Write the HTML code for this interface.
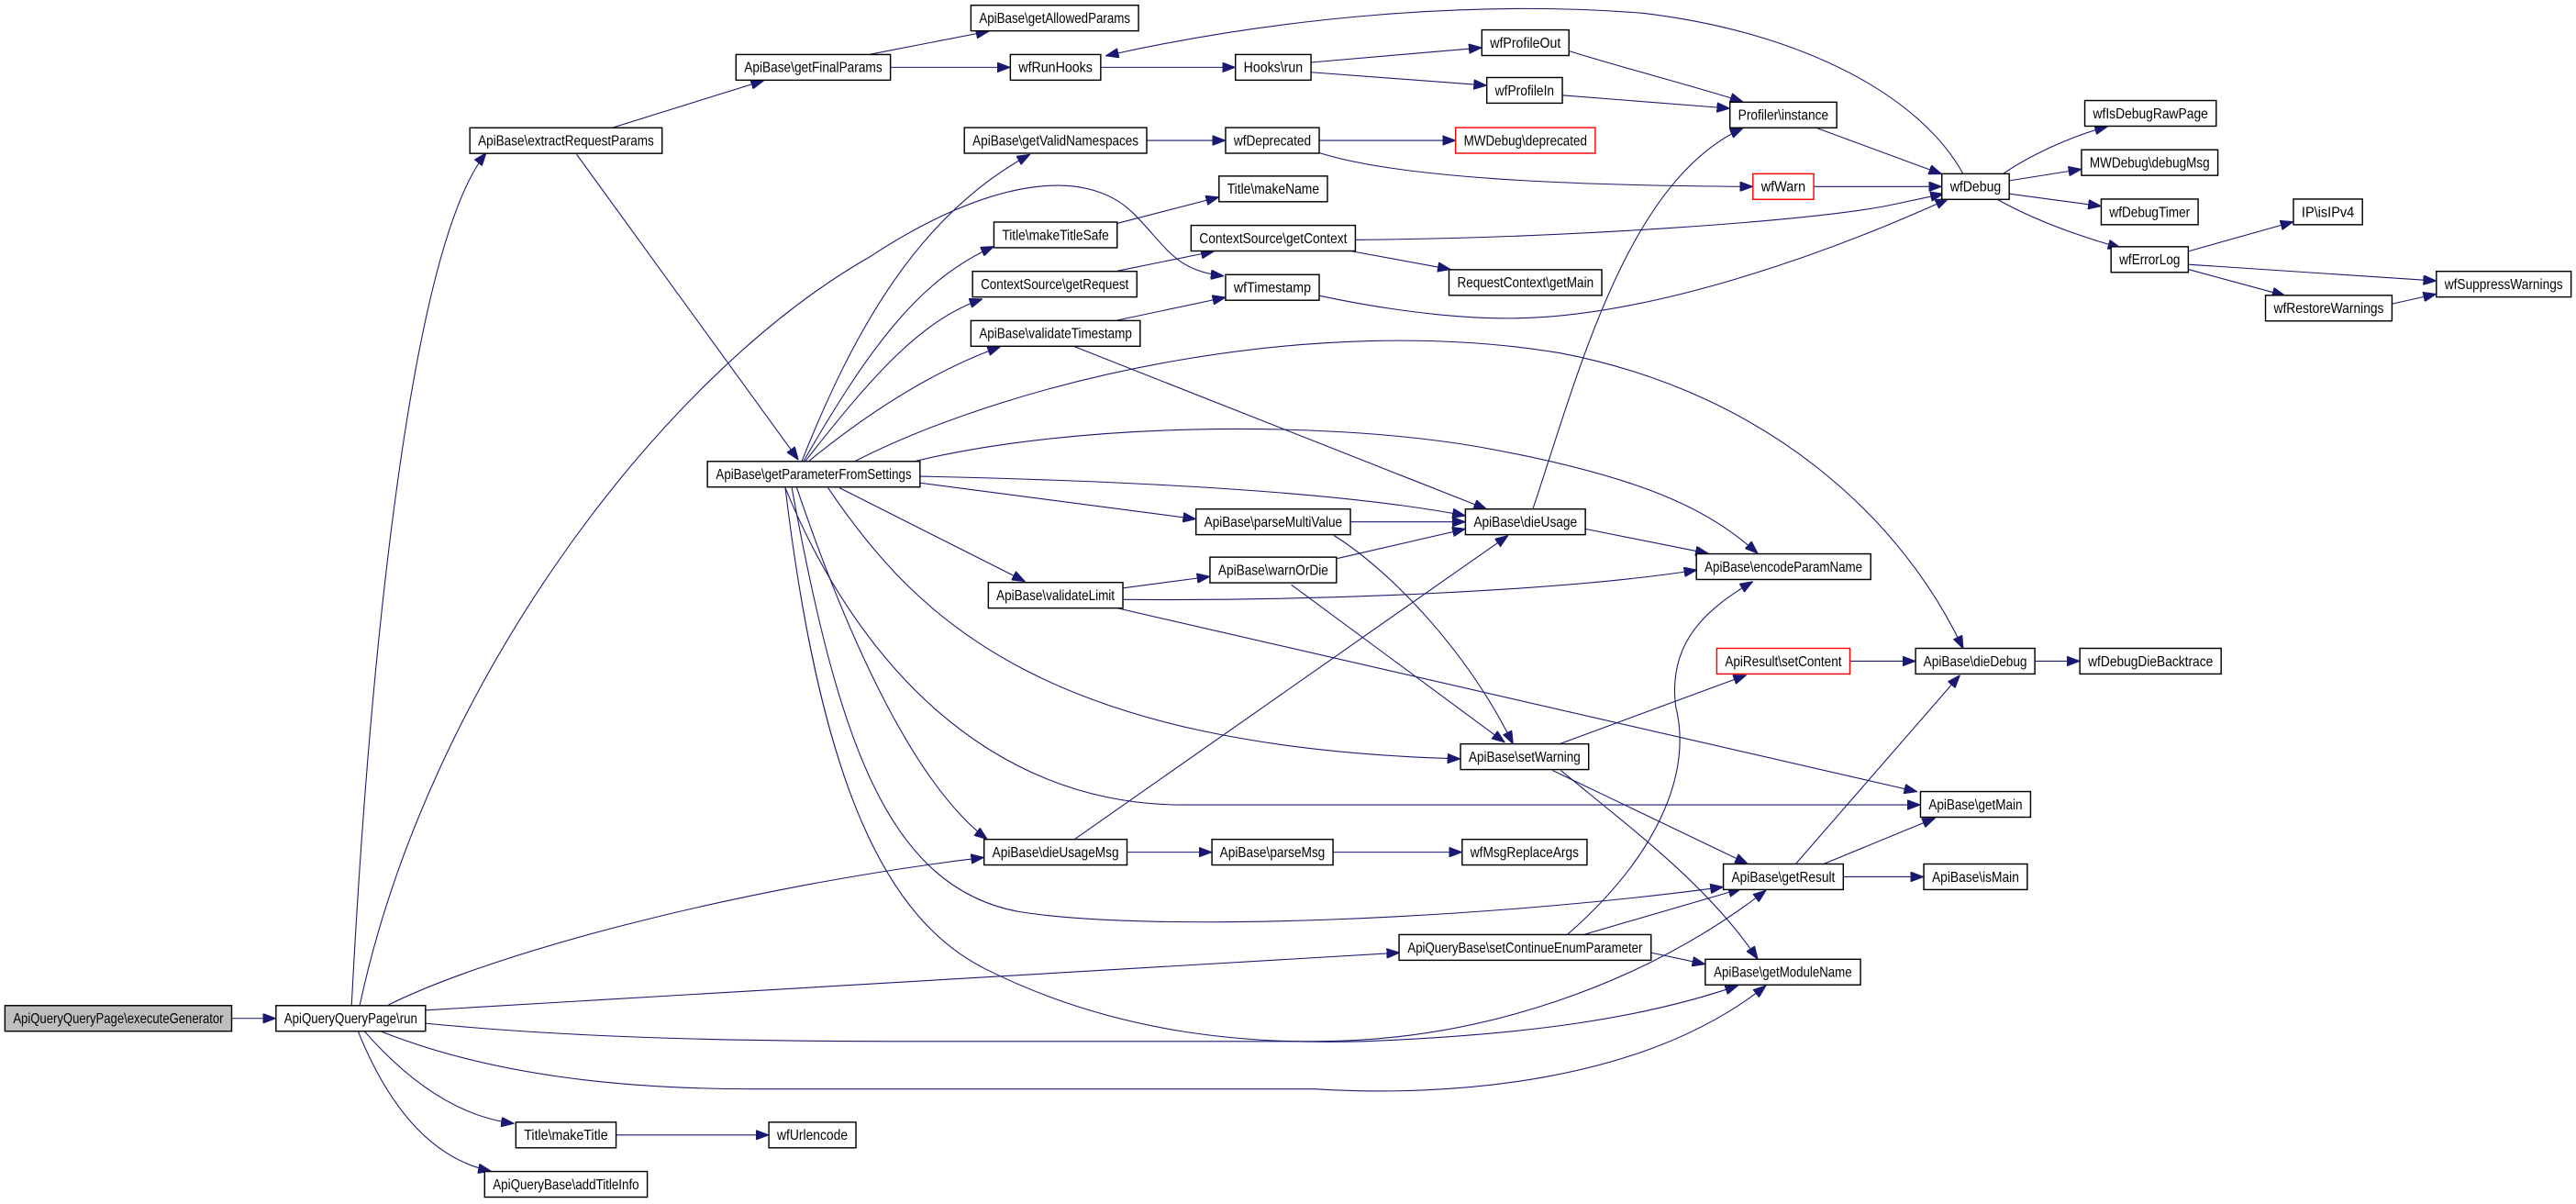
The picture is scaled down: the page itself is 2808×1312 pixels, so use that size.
<!DOCTYPE html>
<html><head><meta charset="utf-8"><style>
html,body{margin:0;padding:0;background:#fff;width:2808px;height:1312px;overflow:hidden}
svg{display:block}
text{font-family:"Liberation Sans",Arial,sans-serif;font-size:8.6px;fill:#000}
.n{fill:#fff;stroke:#000;stroke-width:0.8}
.r{fill:#fff;stroke:#ff0000;stroke-width:0.8}
.g{fill:#bfbfbf;stroke:#000;stroke-width:0.8}
.e{fill:none;stroke:#191970;stroke-width:0.6;marker-end:url(#a)}
</style></head><body>
<svg width="2808" height="1312" viewBox="0 0 1568 733" preserveAspectRatio="none" xmlns="http://www.w3.org/2000/svg">
<defs><marker id="a" markerUnits="userSpaceOnUse" markerWidth="8" markerHeight="6" viewBox="0 0 8 6" refX="8" refY="3" orient="auto"><path d="M0,0 L8,3 L0,6 z" fill="#191970" stroke="#191970" stroke-width="0.5"/></marker></defs>

<!-- edges -->
<path class="e" d="M141,620 L168,620"/>
<path class="e" d="M214,612 C225,400 250,150 296,93"/>
<path class="e" d="M219,612 C260,420 400,230 530,156 C600,110 660,100 690,130 C710,150 715,165 745,168"/>
<path class="e" d="M236,612 C300,580 450,540 599,522"/>
<path class="e" d="M259,615 Q560,596 852,580"/>
<path class="e" d="M259,623 C350,632 450,634 558,634 L800,634 C900,634 1000,600 1075,542"/>
<path class="e" d="M232,628 C300,655 380,663 460,663 L800,663 C880,668 1000,660 1075,600"/>
<path class="e" d="M222,628 C250,660 280,680 313,684"/>
<path class="e" d="M218,628 C235,670 260,705 299,713"/>
<path class="e" d="M375,691 L468,691"/>
<path class="e" d="M372,78 L465,49"/>
<path class="e" d="M351,94 L486,280"/>
<path class="e" d="M530,33 L602,19"/>
<path class="e" d="M542,41 L615,41"/>
<path class="e" d="M670,41 L752,41"/>
<path class="e" d="M798,38 L902,29"/>
<path class="e" d="M798,44 L905,52"/>
<path class="e" d="M955,31 C990,42 1030,52 1061,62"/>
<path class="e" d="M951,58 L1053,66"/>
<path class="e" d="M1195,106 C1170,60 1100,20 1000,8 C900,0 780,10 673,34"/>
<path class="e" d="M1106,78 L1182,106"/>
<path class="e" d="M698,85.5 L746,85.5"/>
<path class="e" d="M803,85.5 L886,85.5"/>
<path class="e" d="M803,93 C850,108 950,113 1067,113.6"/>
<path class="e" d="M1104,113.6 L1182,113.6"/>
<path class="e" d="M825,146 C950,145 1100,135 1150,125 L1183,118"/>
<path class="e" d="M803,180 C850,190 900,196 940,193 C1010,188 1100,160 1186,121"/>
<path class="e" d="M680,136 L742,120"/>
<path class="e" d="M680,165 L739,153"/>
<path class="e" d="M823,153 L883,164"/>
<path class="e" d="M680,195 L746,181"/>
<path class="e" d="M1219,106 C1235,95 1260,83 1283,77"/>
<path class="e" d="M1223,110 L1267,103"/>
<path class="e" d="M1223,118 L1279,125.5"/>
<path class="e" d="M1216,121.5 C1240,135 1270,145 1291,151"/>
<path class="e" d="M1332,153 L1396,135"/>
<path class="e" d="M1332,161 L1483,171"/>
<path class="e" d="M1332,164 L1391,180"/>
<path class="e" d="M1456,185 L1483,179"/>
<!-- getParameterFromSettings -->
<path class="e" d="M488,281 C520,200 560,130 627,94"/>
<path class="e" d="M489,281 C530,210 560,170 605,150"/>
<path class="e" d="M490,281 C530,230 560,195 598,182"/>
<path class="e" d="M492,281 C530,250 570,225 609,211"/>
<path class="e" d="M520,281 C620,230 800,190 950,215 C1080,240 1160,320 1195,395"/>
<path class="e" d="M556,281 C650,258 800,255 900,272 C1000,290 1040,310 1070,337"/>
<path class="e" d="M560,290 C700,293 820,300 892,314"/>
<path class="e" d="M560,294 L728,316"/>
<path class="e" d="M511,297 L624,354"/>
<path class="e" d="M504,297 C560,380 640,455 889,462"/>
<path class="e" d="M478,297 C520,400 600,490 720,490 L1169,490"/>
<path class="e" d="M485,297 C520,400 560,480 601,511"/>
<path class="e" d="M482,297 C510,450 540,540 620,555 C700,568 900,560 1049,540"/>
<path class="e" d="M478,297 C500,480 540,560 600,590 C680,630 760,636 830,634 C930,630 1000,620 1058,600"/>
<path class="e" d="M654,211 L905,310"/>
<path class="e" d="M933,310 C960,230 990,110 1061,78"/>
<path class="e" d="M965,322 L1040,337"/>
<path class="e" d="M822,317.7 L892,317.7"/>
<path class="e" d="M812,326 C850,350 895,400 921,453"/>
<path class="e" d="M814,340 L892,322"/>
<path class="e" d="M786,356 L916,452"/>
<path class="e" d="M683.5,358 L736.5,351"/>
<path class="e" d="M683.5,365 C800,366 950,360 1033,347"/>
<path class="e" d="M679,370 L1167,482"/>
<path class="e" d="M949,453 L1063,411"/>
<path class="e" d="M945,469 L1064,526"/>
<path class="e" d="M950,469 C1000,510 1040,540 1070,584"/>
<path class="e" d="M1126,402.5 L1166,402.5"/>
<path class="e" d="M1238.6,402.5 L1266,402.5"/>
<path class="e" d="M1093,526 L1193,411"/>
<path class="e" d="M1110,526 L1178,498"/>
<path class="e" d="M1122,533.8 L1171,533.8"/>
<path class="e" d="M954,569 C1010,520 1030,470 1020,430 C1015,390 1040,370 1067,354"/>
<path class="e" d="M964,569 L1060,541"/>
<path class="e" d="M1005,580 L1038,587"/>
<path class="e" d="M686,518.8 L737.7,518.8"/>
<path class="e" d="M811.4,518.8 L890,518.8"/>
<path class="e" d="M654,511 L918,326"/>

<!-- nodes -->
<g>
<rect class="g" x="3" y="612.2" width="138" height="15.6"/><text x="72" y="623" text-anchor="middle" textLength="128" lengthAdjust="spacingAndGlyphs">ApiQueryQueryPage\executeGenerator</text>
<rect class="n" x="168" y="612.2" width="91" height="15.6"/><text x="213.5" y="623" text-anchor="middle" textLength="81" lengthAdjust="spacingAndGlyphs">ApiQueryQueryPage\run</text>
<rect class="n" x="286" y="77.8" width="117" height="15.6"/><text x="344.5" y="88.6" text-anchor="middle" textLength="107" lengthAdjust="spacingAndGlyphs">ApiBase\extractRequestParams</text>
<rect class="n" x="448" y="33.2" width="94" height="15.6"/><text x="495" y="44" text-anchor="middle" textLength="84" lengthAdjust="spacingAndGlyphs">ApiBase\getFinalParams</text>
<rect class="n" x="591" y="3.2" width="102" height="15.6"/><text x="642" y="14" text-anchor="middle" textLength="92" lengthAdjust="spacingAndGlyphs">ApiBase\getAllowedParams</text>
<rect class="n" x="615" y="33.2" width="55" height="15.6"/><text x="642.5" y="44" text-anchor="middle" textLength="45" lengthAdjust="spacingAndGlyphs">wfRunHooks</text>
<rect class="n" x="752" y="33.2" width="46" height="15.6"/><text x="775" y="44" text-anchor="middle" textLength="36" lengthAdjust="spacingAndGlyphs">Hooks\run</text>
<rect class="n" x="902" y="18.2" width="53" height="15.6"/><text x="928.5" y="29" text-anchor="middle" textLength="43" lengthAdjust="spacingAndGlyphs">wfProfileOut</text>
<rect class="n" x="905" y="47.2" width="46" height="15.6"/><text x="928" y="58" text-anchor="middle" textLength="36" lengthAdjust="spacingAndGlyphs">wfProfileIn</text>
<rect class="n" x="1053" y="62.2" width="65" height="15.6"/><text x="1085.5" y="73" text-anchor="middle" textLength="55" lengthAdjust="spacingAndGlyphs">Profiler\instance</text>
<rect class="n" x="587" y="77.7" width="111" height="15.6"/><text x="642.5" y="88.5" text-anchor="middle" textLength="101" lengthAdjust="spacingAndGlyphs">ApiBase\getValidNamespaces</text>
<rect class="n" x="746" y="77.7" width="57" height="15.6"/><text x="774.5" y="88.5" text-anchor="middle" textLength="47" lengthAdjust="spacingAndGlyphs">wfDeprecated</text>
<rect class="r" x="886" y="77.7" width="85" height="15.6"/><text x="928.5" y="88.5" text-anchor="middle" textLength="75" lengthAdjust="spacingAndGlyphs">MWDebug\deprecated</text>
<rect class="r" x="1067" y="105.8" width="37" height="15.6"/><text x="1085.5" y="116.6" text-anchor="middle" textLength="27" lengthAdjust="spacingAndGlyphs">wfWarn</text>
<rect class="n" x="742" y="107.2" width="66" height="15.6"/><text x="775" y="118" text-anchor="middle" textLength="56" lengthAdjust="spacingAndGlyphs">Title\makeName</text>
<rect class="n" x="605" y="135.2" width="75" height="15.6"/><text x="642.5" y="146" text-anchor="middle" textLength="65" lengthAdjust="spacingAndGlyphs">Title\makeTitleSafe</text>
<rect class="n" x="725" y="137.2" width="100" height="15.6"/><text x="775" y="148" text-anchor="middle" textLength="90" lengthAdjust="spacingAndGlyphs">ContextSource\getContext</text>
<rect class="n" x="592" y="165.2" width="100" height="15.6"/><text x="642" y="176" text-anchor="middle" textLength="90" lengthAdjust="spacingAndGlyphs">ContextSource\getRequest</text>
<rect class="n" x="746" y="167.2" width="57" height="15.6"/><text x="774.5" y="178" text-anchor="middle" textLength="47" lengthAdjust="spacingAndGlyphs">wfTimestamp</text>
<rect class="n" x="882" y="164.2" width="93" height="15.6"/><text x="928.5" y="175" text-anchor="middle" textLength="83" lengthAdjust="spacingAndGlyphs">RequestContext\getMain</text>
<rect class="n" x="591" y="195.2" width="103" height="15.6"/><text x="642.5" y="206" text-anchor="middle" textLength="93" lengthAdjust="spacingAndGlyphs">ApiBase\validateTimestamp</text>
<rect class="n" x="1182" y="105.8" width="41" height="15.6"/><text x="1202.5" y="116.6" text-anchor="middle" textLength="31" lengthAdjust="spacingAndGlyphs">wfDebug</text>
<rect class="n" x="1269" y="61.2" width="80" height="15.6"/><text x="1309" y="72" text-anchor="middle" textLength="70" lengthAdjust="spacingAndGlyphs">wfIsDebugRawPage</text>
<rect class="n" x="1267" y="91.2" width="83" height="15.6"/><text x="1308.5" y="102" text-anchor="middle" textLength="73" lengthAdjust="spacingAndGlyphs">MWDebug\debugMsg</text>
<rect class="n" x="1279" y="121.2" width="59" height="15.6"/><text x="1308.5" y="132" text-anchor="middle" textLength="49" lengthAdjust="spacingAndGlyphs">wfDebugTimer</text>
<rect class="n" x="1285" y="150.2" width="47" height="15.6"/><text x="1308.5" y="161" text-anchor="middle" textLength="37" lengthAdjust="spacingAndGlyphs">wfErrorLog</text>
<rect class="n" x="1396" y="121.2" width="42" height="15.6"/><text x="1417" y="132" text-anchor="middle" textLength="32" lengthAdjust="spacingAndGlyphs">IP\isIPv4</text>
<rect class="n" x="1483" y="165.2" width="82" height="15.6"/><text x="1524" y="176" text-anchor="middle" textLength="72" lengthAdjust="spacingAndGlyphs">wfSuppressWarnings</text>
<rect class="n" x="1379" y="179.8" width="77" height="15.6"/><text x="1417.5" y="190.6" text-anchor="middle" textLength="67" lengthAdjust="spacingAndGlyphs">wfRestoreWarnings</text>
<rect class="n" x="430.6" y="280.9" width="129.4" height="15.6"/><text x="495.3" y="291.7" text-anchor="middle" textLength="119" lengthAdjust="spacingAndGlyphs">ApiBase\getParameterFromSettings</text>
<rect class="n" x="728" y="309.9" width="94" height="15.6"/><text x="775" y="320.7" text-anchor="middle" textLength="84" lengthAdjust="spacingAndGlyphs">ApiBase\parseMultiValue</text>
<rect class="n" x="892" y="309.9" width="73" height="15.6"/><text x="928.5" y="320.7" text-anchor="middle" textLength="63" lengthAdjust="spacingAndGlyphs">ApiBase\dieUsage</text>
<rect class="n" x="736.5" y="339.2" width="77" height="15.6"/><text x="775" y="350" text-anchor="middle" textLength="67" lengthAdjust="spacingAndGlyphs">ApiBase\warnOrDie</text>
<rect class="n" x="601.6" y="354.6" width="81.9" height="15.6"/><text x="642.5" y="365.4" text-anchor="middle" textLength="72" lengthAdjust="spacingAndGlyphs">ApiBase\validateLimit</text>
<rect class="n" x="1032.6" y="337.2" width="106.1" height="15.6"/><text x="1085.6" y="348" text-anchor="middle" textLength="96" lengthAdjust="spacingAndGlyphs">ApiBase\encodeParamName</text>
<rect class="r" x="1045" y="394.7" width="81" height="15.6"/><text x="1085.5" y="405.5" text-anchor="middle" textLength="71" lengthAdjust="spacingAndGlyphs">ApiResult\setContent</text>
<rect class="n" x="1166" y="394.7" width="72.6" height="15.6"/><text x="1202.3" y="405.5" text-anchor="middle" textLength="63" lengthAdjust="spacingAndGlyphs">ApiBase\dieDebug</text>
<rect class="n" x="1266" y="394.7" width="86" height="15.6"/><text x="1309" y="405.5" text-anchor="middle" textLength="76" lengthAdjust="spacingAndGlyphs">wfDebugDieBacktrace</text>
<rect class="n" x="889" y="452.9" width="78" height="15.6"/><text x="928" y="463.7" text-anchor="middle" textLength="68" lengthAdjust="spacingAndGlyphs">ApiBase\setWarning</text>
<rect class="n" x="1169" y="481.9" width="67" height="15.6"/><text x="1202.5" y="492.7" text-anchor="middle" textLength="57" lengthAdjust="spacingAndGlyphs">ApiBase\getMain</text>
<rect class="n" x="599" y="511" width="87" height="15.6"/><text x="642.5" y="521.8" text-anchor="middle" textLength="77" lengthAdjust="spacingAndGlyphs">ApiBase\dieUsageMsg</text>
<rect class="n" x="737.7" y="511" width="73.7" height="15.6"/><text x="774.5" y="521.8" text-anchor="middle" textLength="64" lengthAdjust="spacingAndGlyphs">ApiBase\parseMsg</text>
<rect class="n" x="890" y="511" width="76" height="15.6"/><text x="928" y="521.8" text-anchor="middle" textLength="66" lengthAdjust="spacingAndGlyphs">wfMsgReplaceArgs</text>
<rect class="n" x="1049" y="526" width="73" height="15.6"/><text x="1085.5" y="536.8" text-anchor="middle" textLength="63" lengthAdjust="spacingAndGlyphs">ApiBase\getResult</text>
<rect class="n" x="1171" y="526" width="63" height="15.6"/><text x="1202.5" y="536.8" text-anchor="middle" textLength="53" lengthAdjust="spacingAndGlyphs">ApiBase\isMain</text>
<rect class="n" x="851.6" y="569" width="153.4" height="15.6"/><text x="928.3" y="579.8" text-anchor="middle" textLength="143" lengthAdjust="spacingAndGlyphs">ApiQueryBase\setContinueEnumParameter</text>
<rect class="n" x="1038" y="584" width="94.5" height="15.6"/><text x="1085.2" y="594.8" text-anchor="middle" textLength="84" lengthAdjust="spacingAndGlyphs">ApiBase\getModuleName</text>
<rect class="n" x="314" y="683.2" width="61" height="15.6"/><text x="344.5" y="694" text-anchor="middle" textLength="51" lengthAdjust="spacingAndGlyphs">Title\makeTitle</text>
<rect class="n" x="468" y="683.2" width="53" height="15.6"/><text x="494.5" y="694" text-anchor="middle" textLength="43" lengthAdjust="spacingAndGlyphs">wfUrlencode</text>
<rect class="n" x="295" y="713.2" width="99" height="15.6"/><text x="344.5" y="724" text-anchor="middle" textLength="89" lengthAdjust="spacingAndGlyphs">ApiQueryBase\addTitleInfo</text>
</g>
</svg>
</body></html>
